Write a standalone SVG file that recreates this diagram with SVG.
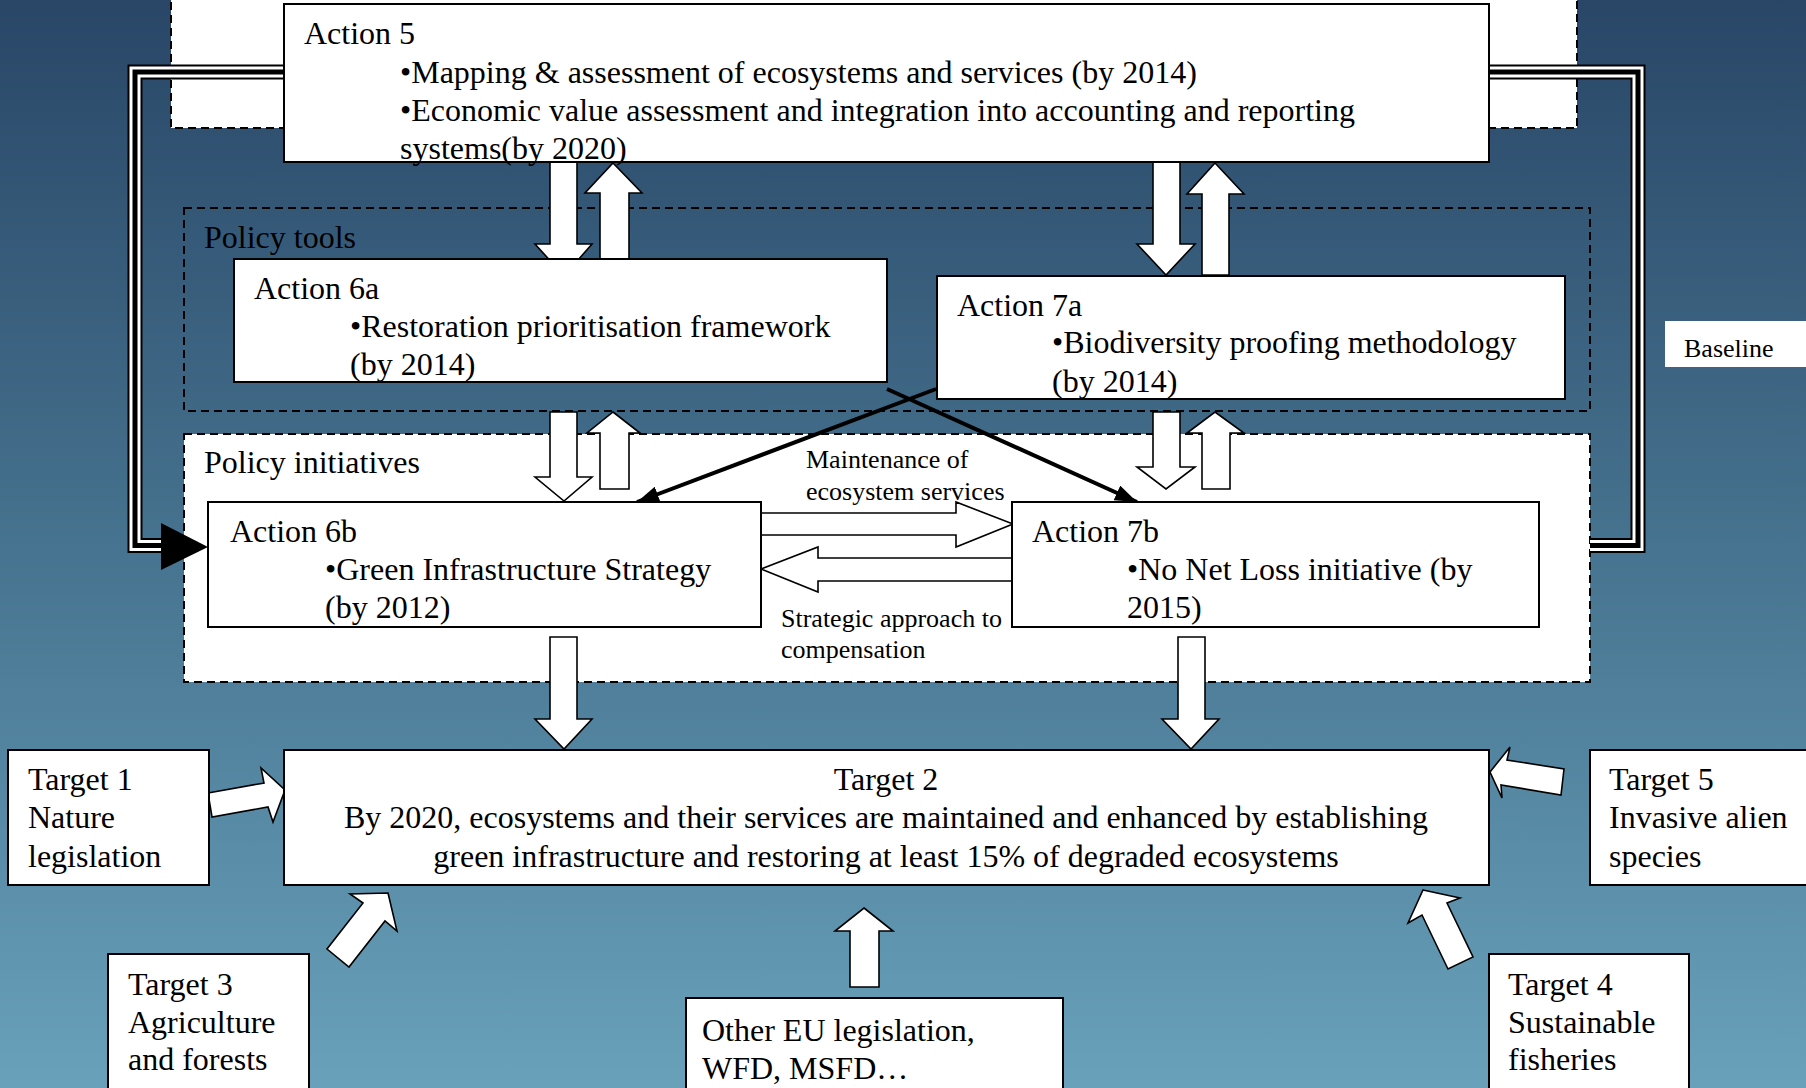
<svg xmlns="http://www.w3.org/2000/svg" width="1806" height="1088" viewBox="0 0 1806 1088">
<defs>
<linearGradient id="bg" x1="0" y1="0" x2="0" y2="1">
<stop offset="0" stop-color="#294667"/>
<stop offset="0.5" stop-color="#46738f"/>
<stop offset="1" stop-color="#69a1ba"/>
</linearGradient>
<marker id="ah" markerWidth="22" markerHeight="16" refX="22" refY="8" orient="auto" markerUnits="userSpaceOnUse">
<path d="M0,0 L22,8 L0,16 z" fill="#000"/>
</marker>
<style>
.box{fill:#fff;stroke:#000;stroke-width:2}
.dash{stroke:#000;stroke-width:2;stroke-dasharray:8 5}
.blk{fill:#fff;stroke:#000;stroke-width:1.6;stroke-linejoin:miter}
.t{font-family:"Liberation Serif","Times New Roman",serif;font-size:32px;fill:#000}
.s{font-size:26px}
.c{text-anchor:middle}
.tri1{fill:none;stroke:#000;stroke-width:15;stroke-linejoin:miter}
.tri2{fill:none;stroke:#fff;stroke-width:11;stroke-linejoin:miter}
.tri3{fill:none;stroke:#000;stroke-width:5;stroke-linejoin:miter}
</style>
</defs>
<rect x="0" y="0" width="1806" height="1088" fill="url(#bg)"/>

<g id="group-knowledge">
<rect x="171" y="-10" width="1406" height="138" fill="#fff" class="dash"/>
</g>
<g id="group-policy-tools">
<rect x="184" y="208" width="1406" height="203" fill="none" class="dash"/>
<text class="t" x="204" y="248">Policy tools</text>
</g>
<g id="group-policy-initiatives">
<rect x="184" y="434" width="1406" height="248" fill="#fff" class="dash"/>
<text class="t" x="204" y="473">Policy initiatives</text>
</g>

<g id="connectors">
<g id="baseline-loop">
<path class="tri1" d="M284,72 H135 V545.5 H163"/>
<path class="tri2" d="M284,72 H135 V545.5 H163"/>
<path class="tri3" d="M284,72 H135 V545.5 H163"/>
<path class="tri1" d="M1489,72 H1638 V545.5 H1590"/>
<path class="tri2" d="M1489,72 H1638 V545.5 H1590"/>
<path class="tri3" d="M1489,72 H1638 V545.5 H1590"/>
<polygon points="161,523 208,547 161,570" fill="#000"/>
</g>
<polygon class="blk" points="550,162 577,162 577,244 592,244 564,276 535,244 550,244"/>
<polygon class="blk" points="613,163 642,193 629,193 629,276 600,276 600,193 585,193"/>
<polygon class="blk" points="1153,162 1180,162 1180,244 1195,244 1166,275 1137,244 1153,244"/>
<polygon class="blk" points="1215,163 1244,194 1229,194 1229,275 1202,275 1202,194 1187,194"/>
<polygon class="blk" points="550,412 577,412 577,477 592,477 564,501 535,477 550,477"/>
<polygon class="blk" points="613,412 640,433 629,433 629,489 600,489 600,433 587,433"/>
<polygon class="blk" points="1153,412 1180,412 1180,467 1195,467 1166,489 1137,467 1153,467"/>
<polygon class="blk" points="1215,412 1244,433 1230,433 1230,489 1202,489 1202,433 1187,433"/>
<polygon class="blk" points="550,637 577,637 577,719 592,719 564,749 535,719 550,719"/>
<polygon class="blk" points="1178,637 1205,637 1205,719 1219,719 1191,749 1162,719 1178,719"/>
<polygon class="blk" points="761,513 956,513 956,502 1013,524 956,547 956,535 761,535"/>
<polygon class="blk" points="1012,558 818,558 818,547 761,569 818,592 818,581 1012,581"/>
<polygon class="blk" points="208,793 264,783 261,768 285,790 273,822 268,807 212,817"/>
<polygon class="blk" points="1490,772 1510,747 1507,760 1564,769 1561,795 1501,785 1502,798"/>
<polygon class="blk" points="388,893 397,931 385,921 349,967 327,949 363,903 350,894"/>
<polygon class="blk" points="1423,890 1460,898 1447,903 1473,957 1448,969 1422,915 1408,923"/>
<polygon class="blk" points="864,908 893,931 879,931 879,987 850,987 850,931 835,931"/>
<line x1="936" y1="389" x2="637" y2="502" stroke="#000" stroke-width="4" marker-end="url(#ah)"/>
<line x1="887" y1="389" x2="1137" y2="502" stroke="#000" stroke-width="4" marker-end="url(#ah)"/>
<text class="t s" x="806" y="468">Maintenance of</text>
<text class="t s" x="806" y="500">ecosystem services</text>
<text class="t s" x="781" y="627">Strategic approach to</text>
<text class="t s" x="781" y="658">compensation</text>
</g>

<g id="action5">
<rect class="box" x="284" y="4" width="1205" height="158"/>
<text class="t" x="304" y="44">Action 5</text>
<text class="t" x="400" y="83">•Mapping &amp; assessment of ecosystems and services (by 2014)</text>
<text class="t" x="400" y="121">•Economic value assessment and integration into accounting and reporting</text>
<text class="t" x="400" y="159">systems(by 2020)</text>
</g>
<g id="action6a">
<rect class="box" x="234" y="259" width="653" height="123"/>
<text class="t" x="254" y="299">Action 6a</text>
<text class="t" x="350" y="337">•Restoration prioritisation framework</text>
<text class="t" x="350" y="375">(by 2014)</text>
</g>
<g id="action7a">
<rect class="box" x="937" y="276" width="628" height="123"/>
<text class="t" x="957" y="316">Action 7a</text>
<text class="t" x="1052" y="353">•Biodiversity proofing methodology</text>
<text class="t" x="1052" y="392">(by 2014)</text>
</g>
<g id="action6b">
<rect class="box" x="208" y="502" width="553" height="125"/>
<text class="t" x="230" y="542">Action 6b</text>
<text class="t" x="325" y="580">•Green Infrastructure Strategy</text>
<text class="t" x="325" y="618">(by 2012)</text>
</g>
<g id="action7b">
<rect class="box" x="1012" y="502" width="527" height="125"/>
<text class="t" x="1032" y="542">Action 7b</text>
<text class="t" x="1127" y="580">•No Net Loss initiative (by</text>
<text class="t" x="1127" y="618">2015)</text>
</g>
<g id="baseline">
<rect x="1665" y="321" width="160" height="46" fill="#fff"/>
<text class="t s" x="1684" y="357">Baseline</text>
</g>
<g id="target2">
<rect class="box" x="284" y="750" width="1205" height="135"/>
<text class="t c" x="886" y="790">Target 2</text>
<text class="t c" x="886" y="828">By 2020, ecosystems and their services are maintained and enhanced by establishing</text>
<text class="t c" x="886" y="867">green infrastructure and restoring at least 15% of degraded ecosystems</text>
</g>
<g id="target1">
<rect class="box" x="8" y="750" width="201" height="135"/>
<text class="t" x="28" y="790">Target 1</text>
<text class="t" x="28" y="828">Nature</text>
<text class="t" x="28" y="867">legislation</text>
</g>
<g id="target5">
<rect class="box" x="1590" y="750" width="240" height="135"/>
<text class="t" x="1609" y="790">Target 5</text>
<text class="t" x="1609" y="828">Invasive alien</text>
<text class="t" x="1609" y="867">species</text>
</g>
<g id="target3">
<rect class="box" x="108" y="954" width="201" height="150"/>
<text class="t" x="128" y="995">Target 3</text>
<text class="t" x="128" y="1033">Agriculture</text>
<text class="t" x="128" y="1070">and forests</text>
</g>
<g id="other-eu">
<rect class="box" x="686" y="998" width="377" height="110"/>
<text class="t" x="702" y="1041">Other EU legislation,</text>
<text class="t" x="702" y="1079">WFD, MSFD…</text>
</g>
<g id="target4">
<rect class="box" x="1489" y="954" width="200" height="150"/>
<text class="t" x="1508" y="995">Target 4</text>
<text class="t" x="1508" y="1033">Sustainable</text>
<text class="t" x="1508" y="1070">fisheries</text>
</g>
</svg>
